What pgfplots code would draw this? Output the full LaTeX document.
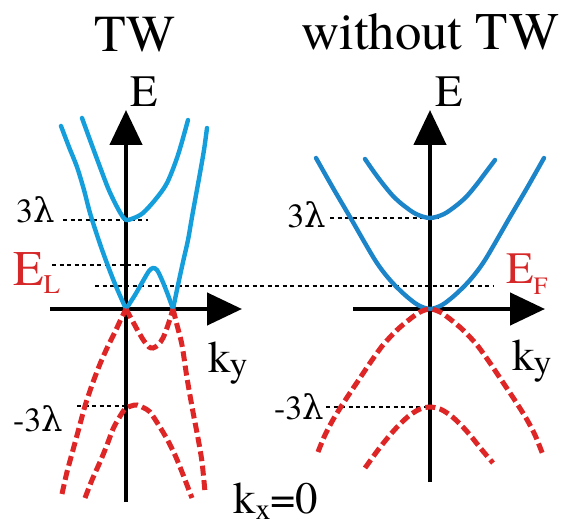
\documentclass[border=0pt]{standalone}
\usepackage{fontspec}
\setmainfont{TeX Gyre Termes}
\newfontfamily\grk{DejaVu Serif}
\usepackage{pgfplots}
\pgfplotsset{compat=1.18}
\usetikzlibrary{arrows.meta}
\definecolor{bandblueL}{RGB}{20,158,220}
\definecolor{bandblueR}{RGB}{28,132,200}
\definecolor{bandred}{RGB}{222,38,38}
\definecolor{txtred}{RGB}{214,40,40}
\begin{document}
\begin{tikzpicture}
\begin{axis}[x=1bp, y=1bp, xmin=0, xmax=566, ymin=0, ymax=525, y dir=reverse,
  hide axis, clip=false, scale only axis]
\path (axis cs:0,0) rectangle (axis cs:566,525);
% dotted reference lines
\pgfplotsset{dotl/.style={black, line width=2bp, dash pattern=on 4bp off 3.5bp}}
\addplot[dotl] coordinates {(63,220) (148,220)};
\addplot[dotl] coordinates {(77,406) (135,406)};
\addplot[dotl] coordinates {(52,265) (148,265)};
\addplot[dotl] coordinates {(95,286) (493,286)};
\addplot[dotl] coordinates {(330,218) (440,218)};
\addplot[dotl] coordinates {(326,407) (430,407)};
% axes
\pgfplotsset{axl/.style={black, line width=4.5bp, -{Triangle[length=35bp,width=32bp]}}}
\addplot[axl] coordinates {(126,502) (126,110)};
\addplot[axl] coordinates {(50,309) (242,309)};
\addplot[axl] coordinates {(430,482) (430,110)};
\addplot[axl] coordinates {(353,309) (545,309)};
% left panel blue
\pgfplotsset{bl/.style={bandblueL, line width=4.4bp, smooth, line cap=round, line join=round}}
\addplot[bl] coordinates {(82,118) (90,140) (100,167) (108,188) (115,203) (121,214) (126,220) (134,218) (143,213) (155,200) (167,183) (178,155) (188,120)};
\addplot[bl] coordinates {(61,126) (69,147) (77,167) (84,190) (90,213) (98,238) (105,258) (115,284) (126,309)};
\addplot[bl] coordinates {(126,309) (135,295) (143,281) (149,271) (153,268) (157,270) (162,280) (168,295) (173,309)};
\addplot[bl] coordinates {(173,309) (178,285) (183,262) (188,240) (192,217) (196,195) (200,173) (204,150) (207,128)};
% left panel red
\pgfplotsset{rd/.style={bandred, line width=5bp, smooth, dash pattern=on 10bp off 4.5bp}}
\addplot[rd] coordinates {(62,494) (67,472) (73,450) (79,428) (85,406) (92,385) (100,364) (108,346) (115,332) (121,319) (126,309)};
\addplot[rd] coordinates {(126,309) (132,320) (138,331) (144,341) (149,347) (153,348) (158,345) (163,338) (168,325) (173,309)};
\addplot[rd] coordinates {(173,309) (177,325) (182,345) (187,378) (193,412) (198,438) (202,462) (205,492)};
\addplot[rd] coordinates {(85,498) (92,480) (100,462) (107,445) (113,429) (119,418) (125,409) (131,406) (137,405) (144,408) (150,412) (158,424) (167,439) (175,455) (182,472) (187,485) (192,498)};
% right panel blue
\pgfplotsset{br/.style={bandblueR, line width=4.4bp, smooth, line cap=round}}
\addplot[br] coordinates {(365,159) (374,172) (383,184) (393,196) (403,205) (416,214) (430,218) (444,214) (457,205) (467,196) (477,184) (486,172) (495,160)};
\addplot[br] coordinates {(316,158) (333,188) (350,217) (375,260) (390,280) (405,295) (418,305) (430,309) (442,305) (455,295) (470,280) (485,260) (510,217) (527,188) (544,158)};
% right panel red
\addplot[rd] coordinates {(318,452) (325,435) (334,418) (346,399) (358,381) (370,363) (383,345) (397,330) (410,319) (420,312) (430,309) (440,312) (450,319) (463,330) (477,345) (490,363) (502,381) (514,399) (526,418) (535,435) (543,455)};
\addplot[rd] coordinates {(365,468) (378,450) (390,435) (400,424) (410,415) (420,409) (430,407) (440,409) (450,415) (460,424) (470,435) (482,450) (493,463)};
% texts
\node[anchor=base, inner sep=0pt] at (axis cs:135,52) {\fontsize{52}{56}\selectfont TW};
\node[anchor=base west, inner sep=0pt] at (axis cs:301,50) {\fontsize{53}{56}\selectfont without TW};
\node[anchor=base west, inner sep=0pt] at (axis cs:130,107) {\fontsize{45}{48}\selectfont E};
\node[anchor=base west, inner sep=0pt] at (axis cs:435,107) {\fontsize{45}{48}\selectfont E};
\node[anchor=base west, inner sep=0pt] at (axis cs:16,223) {\fontsize{34}{36}\selectfont 3{\grk λ}};
\node[anchor=base east, inner sep=0pt] at (axis cs:326,227) {\fontsize{34}{36}\selectfont 3{\grk λ}};
\node[anchor=base west, inner sep=0pt] at (axis cs:13,431) {\fontsize{34}{36}\selectfont -3{\grk λ}};
\node[anchor=base east, inner sep=0pt] at (axis cs:324,419) {\fontsize{34}{36}\selectfont -3{\grk λ}};
\node[anchor=base west, inner sep=0pt, text=txtred] at (axis cs:13,285) {\fontsize{50}{52}\selectfont E\raisebox{-8bp}{\fontsize{27}{30}\selectfont L}};
\node[anchor=base west, inner sep=0pt, text=txtred] at (axis cs:506,283) {\fontsize{45}{48}\selectfont E\raisebox{-11bp}{\fontsize{25}{28}\selectfont F}};
\node[anchor=base west, inner sep=0pt] at (axis cs:208,372) {\fontsize{45}{48}\selectfont k\kern-1bp\raisebox{-4bp}{\fontsize{36}{40}\selectfont y}};
\node[anchor=base west, inner sep=0pt] at (axis cs:512,370) {\fontsize{45}{48}\selectfont k\kern-1bp\raisebox{-4bp}{\fontsize{36}{40}\selectfont y}};
\node[anchor=base west, inner sep=0pt] at (axis cs:233,513) {\fontsize{45}{48}\selectfont k\raisebox{-6bp}{\fontsize{30}{32}\selectfont x}=0};
\end{axis}
\end{tikzpicture}
\end{document}
